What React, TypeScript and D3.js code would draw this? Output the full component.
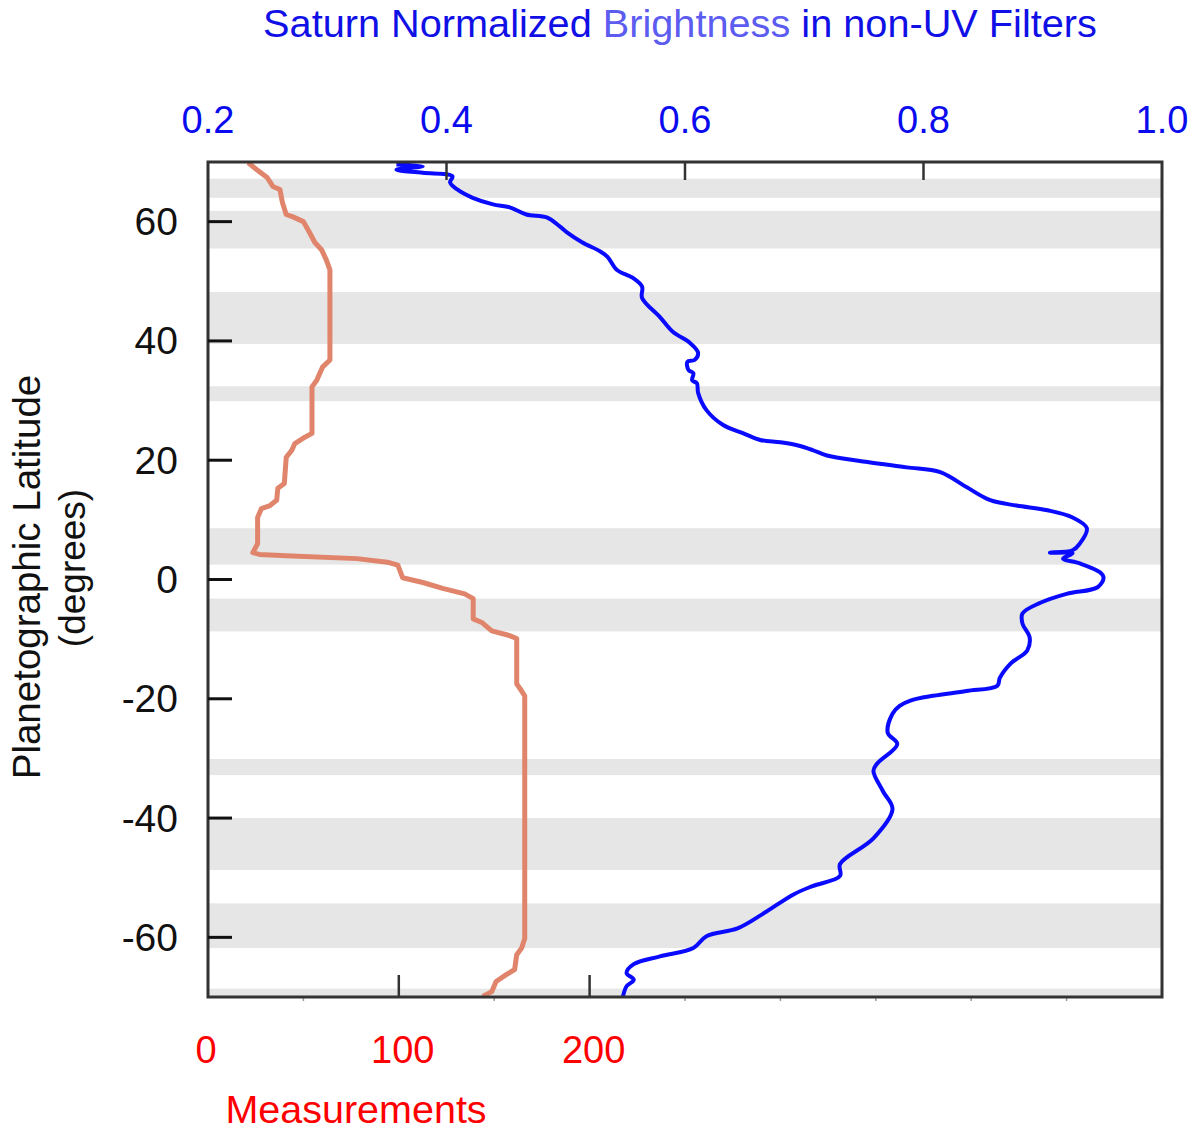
import { useEffect, useRef } from "react";
import * as d3 from "d3";

// latitude bands shaded in grey (degrees, [south, north])
const bandLo = [64, 55.5, 39.5, 29.9, 2.5, -8.7, -32.8, -48.7, -61.8, -70];
const bandHi = [67.2, 61.8, 48.2, 32.4, 8.6, -3.2, -30.1, -40, -54.3, -68.6];

// number of measurements per latitude (orange)
const measLat = [
  69.9, 68.7, 67.4, 65.9, 65.4, 63.2, 61.2, 60.8, 60, 58.3, 56.5, 55.3, 53.6, 51.9,
  36.8, 35.6, 33.4, 32.3, 24.5, 23.9, 22.8, 21.7, 20.5, 16.1, 15.3, 13.3, 12.4, 11.9,
  10.4, 6, 4.5, 4.2, 4, 3.5, 2.9, 2.4, 0.3, -0.5, -1.5, -2.4, -3.2, -6.6, -7.2, -8.6,
  -9.4, -9.9, -17.5, -18.7, -19.5, -60.2, -61.8, -62.9, -65.4, -66.2, -67.4, -69.1, -69.9,
];
const measCount = [
  21, 25.6, 31, 34, 37.7, 39, 41, 44.5, 50, 53, 56, 59.5, 62, 63.9,
  63.9, 60, 57, 54.5, 54.5, 51, 45.5, 44, 41, 40, 36.6, 36, 32.5, 28,
  26, 26, 23.5, 27, 41, 78, 94, 99.5, 102, 112.6, 123, 134.5, 139, 139, 143.5, 148.7,
  158, 161.8, 161.8, 164.4, 166, 166, 164.4, 161.8, 160.7, 156.5, 151, 148.7, 144,
];

// normalized brightness per latitude (blue)
const brightLat = [
  69.6, 69.3, 68.7, 68.2, 67.6, 66.6, 65.4, 64, 62.9, 62.4, 61.2, 60.7, 59.2, 58.2,
  56.5, 55, 54.1, 51.9, 50.6, 49.1, 47.2, 44, 41.5, 39.7, 38, 36.8, 36.5, 35.1, 34.6,
  33.4, 32.9, 31.3, 28.4, 25.9, 24.5, 23.4, 23, 22.5, 21.7, 20.8, 19.7, 18.8, 18,
  15.5, 13.3, 12.4, 11.6, 10.4, 8.6, 6, 4.9, 4.5, 4.4, 3.5, 2.7, 1.2, 0.3, -1.3, -2.4,
  -3.9, -5.7, -7.4, -9.7, -11.9, -14.1, -16.5, -17.8, -18.7, -19.5, -20.3, -21.2,
  -22.5, -25.7, -27.6, -30.9, -32.1, -35.5, -38.5, -43.4, -47.7, -49.7, -51.4, -52.8,
  -56.1, -58.5, -59.8, -61.8, -63.2, -64.5, -66, -67.1, -68.2, -69.9,
];
const brightVal = [
  0.358, 0.38, 0.358, 0.38, 0.405, 0.403, 0.409, 0.422, 0.439, 0.453, 0.467, 0.484, 0.495, 0.501,
  0.514, 0.529, 0.535, 0.543, 0.556, 0.564, 0.564, 0.579, 0.59, 0.604, 0.611, 0.608, 0.602, 0.603, 0.607,
  0.606, 0.61, 0.611, 0.618, 0.632, 0.649, 0.663, 0.68, 0.694, 0.707, 0.719, 0.753, 0.786, 0.814,
  0.836, 0.856, 0.878, 0.904, 0.925, 0.937, 0.931, 0.925, 0.906, 0.925, 0.917, 0.931, 0.948, 0.951, 0.946, 0.92,
  0.898, 0.883, 0.883, 0.889, 0.887, 0.873, 0.864, 0.862, 0.836, 0.808, 0.789, 0.78,
  0.774, 0.77, 0.778, 0.761, 0.758, 0.766, 0.774, 0.758, 0.73, 0.73, 0.707, 0.691,
  0.665, 0.644, 0.618, 0.607, 0.579, 0.557, 0.551, 0.557, 0.551, 0.548,
];

const latTicks = [60, 40, 20, 0, -20, -40, -60];
const brightTicks = [0.2, 0.4, 0.6, 0.8, 1.0];
const countTicks = [0, 100, 200];
const countMinor = [50, 150, 250, 300, 350, 400, 450];

const W = 1198;
const H = 1131;
const M = { top: 162, right: 36, bottom: 134, left: 208 };
const FONT = "Liberation Sans, Arial, Helvetica, sans-serif";

export default function App() {
  const svgRef = useRef<SVGSVGElement>(null);

  useEffect(() => {
    document.body.style.margin = "0";
    const svg = d3.select(svgRef.current);
    svg.selectAll("*").remove();
    svg.attr("width", W).attr("height", H);

    svg.append("rect").attr("width", W).attr("height", H).attr("fill", "#ffffff");

    const x0 = M.left;
    const x1 = W - M.right;
    const y0 = M.top;
    const y1 = H - M.bottom;

    const y = d3.scaleLinear().domain([-70, 70]).range([y1, y0]);
    const xb = d3.scaleLinear().domain([0.2, 1.0]).range([x0, x1]);
    const xc = d3.scaleLinear().domain([0, 500]).range([x0, x1]);

    // grey bands
    bandLo.forEach((lo, i) => {
      svg.append("rect")
        .attr("x", x0)
        .attr("width", x1 - x0)
        .attr("y", y(bandHi[i]))
        .attr("height", y(lo) - y(bandHi[i]))
        .attr("fill", "#e6e6e6");
    });

    // minor count ticks (tiny, under the axis)
    countMinor.forEach((c) => {
      svg.append("line")
        .attr("x1", xc(c)).attr("x2", xc(c))
        .attr("y1", y1).attr("y2", y1 + 4)
        .attr("stroke", "#999").attr("stroke-width", 1.5);
    });

    // measurement line
    const measLine = d3.line<number>()
      .x((d) => xc(d))
      .y((_, i) => y(measLat[i]));
    svg.append("path")
      .attr("d", measLine(measCount))
      .attr("fill", "none")
      .attr("stroke", "#e0856b")
      .attr("stroke-width", 5)
      .attr("stroke-linejoin", "round");

    // brightness line
    const brightLine = d3.line<number>()
      .x((d) => xb(d))
      .y((_, i) => y(brightLat[i]))
      .curve(d3.curveCatmullRom.alpha(0.5));
    svg.append("path")
      .attr("d", brightLine(brightVal))
      .attr("fill", "none")
      .attr("stroke", "#0a0aff")
      .attr("stroke-width", 4)
      .attr("stroke-linejoin", "round");

    // frame
    svg.append("rect")
      .attr("x", x0).attr("y", y0)
      .attr("width", x1 - x0).attr("height", y1 - y0)
      .attr("fill", "none")
      .attr("stroke", "#333")
      .attr("stroke-width", 3);

    // latitude ticks + labels
    latTicks.forEach((t) => {
      svg.append("line")
        .attr("x1", x0).attr("x2", x0 + 24)
        .attr("y1", y(t)).attr("y2", y(t))
        .attr("stroke", "#111").attr("stroke-width", 3);
      svg.append("text")
        .attr("x", 178)
        .attr("y", y(t))
        .attr("text-anchor", "end")
        .attr("dominant-baseline", "central")
        .attr("font-family", FONT)
        .attr("font-size", "39px")
        .attr("fill", "#111")
        .text(String(t));
    });

    // brightness ticks (top)
    brightTicks.forEach((t) => {
      if (t > 0.2 && t < 1.0) {
        svg.append("line")
          .attr("x1", xb(t)).attr("x2", xb(t))
          .attr("y1", y0).attr("y2", y0 + 18)
          .attr("stroke", "#333").attr("stroke-width", 2.5);
      }
      svg.append("text")
        .attr("x", xb(t))
        .attr("y", 133)
        .attr("text-anchor", "middle")
        .attr("font-family", FONT)
        .attr("font-size", "38px")
        .attr("fill", "#0a0aee")
        .text(t.toFixed(1));
    });

    // count ticks (bottom)
    countTicks.forEach((t) => {
      if (t > 0) {
        svg.append("line")
          .attr("x1", xc(t)).attr("x2", xc(t))
          .attr("y1", y1).attr("y2", y1 - 22)
          .attr("stroke", "#333").attr("stroke-width", 2.5);
      }
      svg.append("text")
        .attr("x", xc(t) + (t > 0 ? 4 : -2))
        .attr("y", 1063)
        .attr("text-anchor", "middle")
        .attr("font-family", FONT)
        .attr("font-size", "38px")
        .attr("fill", "#ff0000")
        .text(String(t));
    });

    svg.append("text")
      .attr("x", 356)
      .attr("y", 1123)
      .attr("text-anchor", "middle")
      .attr("font-family", FONT)
      .attr("font-size", "39.5px")
      .attr("fill", "#ff0000")
      .text("Measurements");

    // title
    const title = svg.append("text")
      .attr("x", 680)
      .attr("y", 37)
      .attr("text-anchor", "middle")
      .attr("font-family", FONT)
      .attr("font-size", "39.7px")
      .attr("fill", "#1010e6");
    title.append("tspan").text("Saturn Normalized ");
    title.append("tspan").attr("fill", "#5c5cf0").text("Brightness");
    title.append("tspan").text(" in non-UV Filters");

    // y-axis title
    const yTitle = svg.append("g").attr("transform", "translate(50,577) rotate(-90)");
    yTitle.append("text")
      .attr("x", 0).attr("y", -10)
      .attr("text-anchor", "middle")
      .attr("font-family", FONT)
      .attr("font-size", "38.5px")
      .attr("fill", "#111")
      .text("Planetographic Latitude");
    yTitle.append("text")
      .attr("x", 9).attr("y", 35)
      .attr("text-anchor", "middle")
      .attr("font-family", FONT)
      .attr("font-size", "37px")
      .attr("fill", "#111")
      .text("(degrees)");
  }, []);

  return <svg ref={svgRef} style={{ display: "block" }} />;
}
